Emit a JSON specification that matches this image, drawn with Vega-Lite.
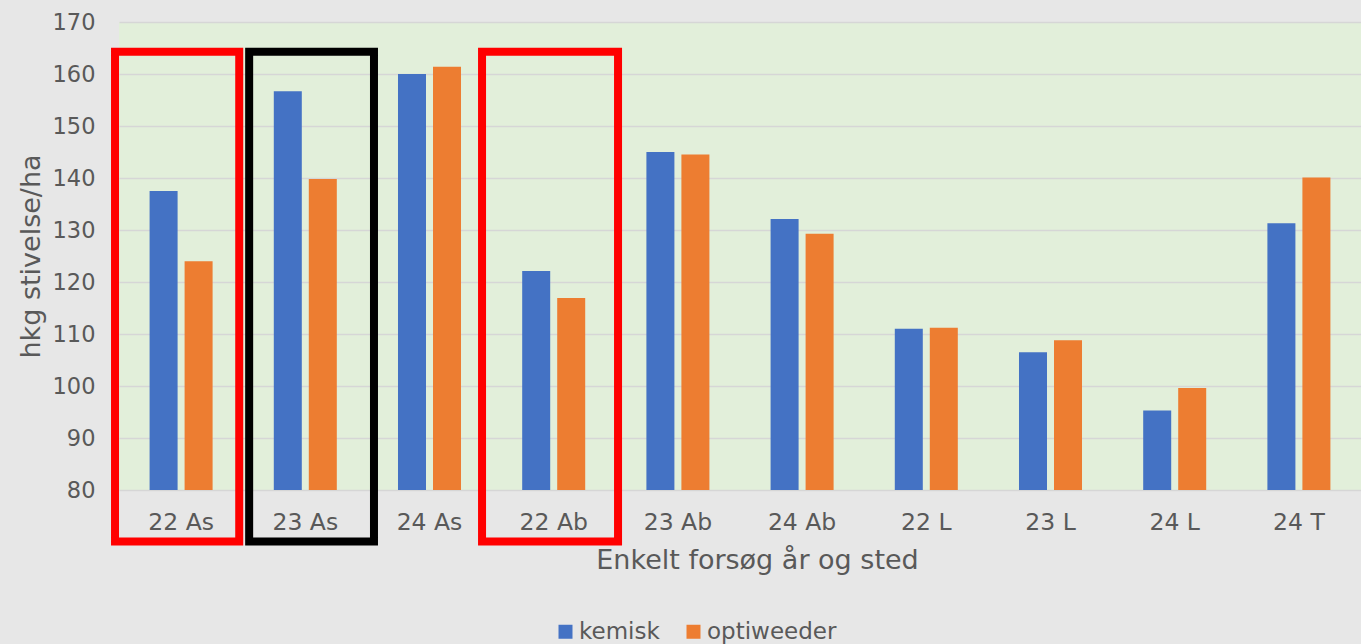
{
  "$schema": "https://vega.github.io/schema/vega-lite/v6.json",
  "width": 1242,
  "height": 468,
  "autosize": {"type": "none"},
  "padding": {"left": 119, "top": 22, "right": 0, "bottom": 154},
  "background": "#e7e7e7",
  "config": {
    "view": {"fill": "#e2efda", "stroke": null},
    "font": "DejaVu Sans",
    "axis": {
      "labelColor": "#595959",
      "titleColor": "#595959",
      "labelFont": "DejaVu Sans",
      "titleFont": "DejaVu Sans",
      "titleFontWeight": "normal",
      "ticks": false,
      "domain": false
    },
    "legend": {
      "labelColor": "#595959",
      "labelFont": "DejaVu Sans"
    }
  },
  "layer": [
    {
      "data": {
        "values": [
          {"sted": "22 As", "serie": "kemisk", "vaerdi": 137.5},
          {"sted": "22 As", "serie": "optiweeder", "vaerdi": 124.0},
          {"sted": "23 As", "serie": "kemisk", "vaerdi": 156.7},
          {"sted": "23 As", "serie": "optiweeder", "vaerdi": 139.8},
          {"sted": "24 As", "serie": "kemisk", "vaerdi": 160.0},
          {"sted": "24 As", "serie": "optiweeder", "vaerdi": 161.4},
          {"sted": "22 Ab", "serie": "kemisk", "vaerdi": 122.1},
          {"sted": "22 Ab", "serie": "optiweeder", "vaerdi": 116.9},
          {"sted": "23 Ab", "serie": "kemisk", "vaerdi": 145.0},
          {"sted": "23 Ab", "serie": "optiweeder", "vaerdi": 144.5},
          {"sted": "24 Ab", "serie": "kemisk", "vaerdi": 132.1},
          {"sted": "24 Ab", "serie": "optiweeder", "vaerdi": 129.3},
          {"sted": "22 L", "serie": "kemisk", "vaerdi": 111.0},
          {"sted": "22 L", "serie": "optiweeder", "vaerdi": 111.2},
          {"sted": "23 L", "serie": "kemisk", "vaerdi": 106.5},
          {"sted": "23 L", "serie": "optiweeder", "vaerdi": 108.8},
          {"sted": "24 L", "serie": "kemisk", "vaerdi": 95.3},
          {"sted": "24 L", "serie": "optiweeder", "vaerdi": 99.6},
          {"sted": "24 T", "serie": "kemisk", "vaerdi": 131.3},
          {"sted": "24 T", "serie": "optiweeder", "vaerdi": 140.1}
        ]
      },
      "mark": {"type": "bar"},
      "encoding": {
        "x": {
          "field": "sted",
          "type": "nominal",
          "sort": null,
          "scale": {
            "domain": ["22 As", "23 As", "24 As", "22 Ab", "23 Ab", "24 Ab", "22 L", "23 L", "24 L", "24 T"],
            "paddingInner": 0,
            "paddingOuter": 0
          },
          "axis": {
            "title": "Enkelt forsøg år og sted",
            "labelAngle": 0,
            "labelFontSize": 23.5,
            "labelPadding": 20,
            "titleFontSize": 27,
            "titlePadding": 14,
            "titleX": 638,
            "titleAlign": "center",
            "grid": false
          }
        },
        "xOffset": {
          "field": "serie",
          "type": "nominal",
          "scale": {"domain": ["kemisk", "optiweeder"], "paddingInner": 0.2, "paddingOuter": 0.874}
        },
        "y": {
          "field": "vaerdi",
          "type": "quantitative",
          "scale": {"domain": [80, 170], "zero": false, "nice": false},
          "axis": {
            "title": "hkg stivelse/ha",
            "values": [80, 90, 100, 110, 120, 130, 140, 150, 160, 170],
            "labelFontSize": 22.5,
            "labelPadding": 24,
            "titleFontSize": 27,
            "titlePadding": 7,
            "grid": true,
            "gridColor": "#d6d6d6",
            "gridWidth": 1.5
          }
        },
        "y2": {"datum": 80},
        "color": {
          "field": "serie",
          "type": "nominal",
          "scale": {"domain": ["kemisk", "optiweeder"], "range": ["#4472c4", "#ed7d31"]},
          "legend": {
            "title": null,
            "orient": "none",
            "direction": "horizontal",
            "legendX": 435,
            "legendY": 598,
            "symbolType": "square",
            "symbolSize": 196,
            "symbolStrokeWidth": 0,
            "labelFontSize": 23,
            "labelOffset": 2,
            "columnPadding": 22
          }
        }
      }
    },
    {
      "data": {"values": [{"sted": "22 As", "farve": "#ff0000"}]},
      "mark": {"type": "rect", "fillOpacity": 0, "strokeWidth": 8, "clip": false},
      "encoding": {
        "x": {"field": "sted", "type": "nominal", "bandPosition": -0.032},
        "x2": {"field": "sted", "bandPosition": 0.968},
        "y": {"datum": 164.3},
        "y2": {"datum": 70.1},
        "stroke": {"field": "farve", "type": "nominal", "scale": null}
      }
    },
    {
      "data": {"values": [{"sted": "23 As", "farve": "#000000"}]},
      "mark": {"type": "rect", "fillOpacity": 0, "strokeWidth": 8, "clip": false},
      "encoding": {
        "x": {"field": "sted", "type": "nominal", "bandPosition": 0.048},
        "x2": {"field": "sted", "bandPosition": 1.053},
        "y": {"datum": 164.3},
        "y2": {"datum": 70.1},
        "stroke": {"field": "farve", "type": "nominal", "scale": null}
      }
    },
    {
      "data": {"values": [{"sted": "22 Ab", "farve": "#ff0000"}]},
      "mark": {"type": "rect", "fillOpacity": 0, "strokeWidth": 8, "clip": false},
      "encoding": {
        "x": {"field": "sted", "type": "nominal", "bandPosition": -0.077},
        "x2": {"field": "sted", "bandPosition": 1.018},
        "y": {"datum": 164.3},
        "y2": {"datum": 70.1},
        "stroke": {"field": "farve", "type": "nominal", "scale": null}
      }
    }
  ]
}
